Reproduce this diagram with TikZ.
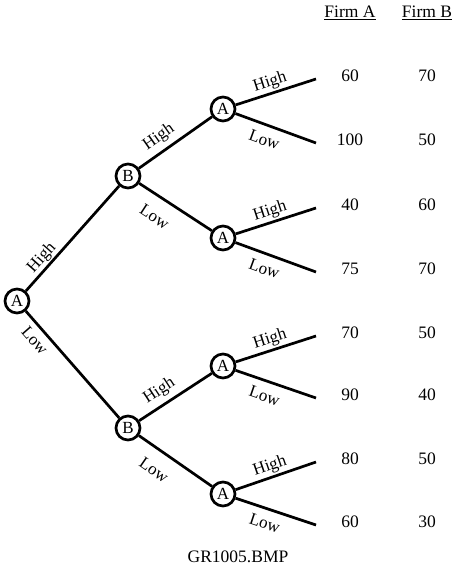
\documentclass[tikz,border=0pt]{standalone}
\usepackage{fontspec}
\setmainfont{Liberation Serif}
\usetikzlibrary{positioning}

\begin{document}
\begin{tikzpicture}[
    x=1pt, y=1pt,
    node distance=10pt, on grid,
    dec/.style={draw, circle, line width=2.7pt, minimum size=24pt, inner sep=0pt, font=\fontsize{17}{20}\selectfont},
    move/.style={line width=2.7pt},
    act/.style={font=\fontsize{17}{20}\selectfont, sloped, inner sep=2pt, outer sep=1pt},
    actlow/.style={act, outer sep=7pt},
    pay/.style={font=\fontsize{17.5}{20}\selectfont},
]
\useasboundingbox (0,0) rectangle (458,-569);

% Root and Firm B's moves
\node[dec] (root) at (17,-301) {A};
\node[dec, above right=125pt and 111pt of root] (bhi) {B};
\node[dec, below right=127pt and 111pt of root] (blo) {B};

% Firm A's second moves
\node[dec, above right=67pt and 95pt of bhi] (ahh) {A};
\node[dec, below right=62pt and 95pt of bhi] (ahl) {A};
\node[dec, above right=62pt and 95pt of blo] (alh) {A};
\node[dec, below right=66pt and 95pt of blo] (all) {A};

% Leaf ends
\coordinate[above right=30pt and 93pt of ahh] (e1);
\coordinate[below right=34pt and 93pt of ahh] (e2);
\coordinate[above right=30pt and 93pt of ahl] (e3);
\coordinate[below right=34pt and 93pt of ahl] (e4);
\coordinate[above right=30pt and 93pt of alh] (e5);
\coordinate[below right=32pt and 93pt of alh] (e6);
\coordinate[above right=32pt and 93pt of all] (e7);
\coordinate[below right=31pt and 93pt of all] (e8);

% Moves
\draw[move] (root) -- node[act, above, pos=.25, outer sep=0pt] {High} (bhi);
\draw[move] (root) -- node[actlow, below, pos=.2, outer sep=5pt] {Low} (blo);
\draw[move] (bhi) -- node[act, above, pos=.38, outer sep=4pt] {High} (ahh);
\draw[move] (bhi) -- node[actlow, below, pos=.36, outer sep=12pt] {Low} (ahl);
\draw[move] (blo) -- node[act, above, pos=.38, outer sep=4pt] {High} (alh);
\draw[move] (blo) -- node[actlow, below, pos=.36, outer sep=12pt] {Low} (all);

\draw[move] (ahh) -- node[act, above, pos=.47] {High} (e1);
\draw[move] (ahh) -- node[actlow, below, pos=.42] {Low} (e2);
\draw[move] (ahl) -- node[act, above, pos=.47] {High} (e3);
\draw[move] (ahl) -- node[actlow, below, pos=.42] {Low} (e4);
\draw[move] (alh) -- node[act, above, pos=.47] {High} (e5);
\draw[move] (alh) -- node[actlow, below, pos=.42] {Low} (e6);
\draw[move] (all) -- node[act, above, pos=.47] {High} (e7);
\draw[move] (all) -- node[actlow, below, pos=.42] {Low} (e8);

% Payoffs
\node[pay, right=34pt of e1, yshift=3pt, anchor=center] (pa1) {60};
\node[pay, right=34pt of e2, yshift=3pt, anchor=center] (pa2) {100};
\node[pay, right=34pt of e3, yshift=3pt, anchor=center] (pa3) {40};
\node[pay, right=34pt of e4, yshift=3pt, anchor=center] (pa4) {75};
\node[pay, right=34pt of e5, yshift=3pt, anchor=center] (pa5) {70};
\node[pay, right=34pt of e6, yshift=3pt, anchor=center] (pa6) {90};
\node[pay, right=34pt of e7, yshift=3pt, anchor=center] (pa7) {80};
\node[pay, right=34pt of e8, yshift=3pt, anchor=center] (pa8) {60};

\node[pay, right=77pt of pa1.center, anchor=center] (pb1) {70};
\node[pay, right=77pt of pa2.center, anchor=center] (pb2) {50};
\node[pay, right=77pt of pa3.center, anchor=center] (pb3) {60};
\node[pay, right=77pt of pa4.center, anchor=center] (pb4) {70};
\node[pay, right=77pt of pa5.center, anchor=center] (pb5) {50};
\node[pay, right=77pt of pa6.center, anchor=center] (pb6) {40};
\node[pay, right=77pt of pa7.center, anchor=center] (pb7) {50};
\node[pay, right=77pt of pa8.center, anchor=center] (pb8) {30};

% Column heads
\node[pay, above=63pt of pa1.center, anchor=center] (firma) {\underline{Firm A}};
\node[pay, above=63pt of pb1.center, anchor=center] (firmb) {\underline{Firm B}};

% Caption
\node[pay] (caption) at (238,-557) {GR1005.BMP};

\end{tikzpicture}
\end{document}
